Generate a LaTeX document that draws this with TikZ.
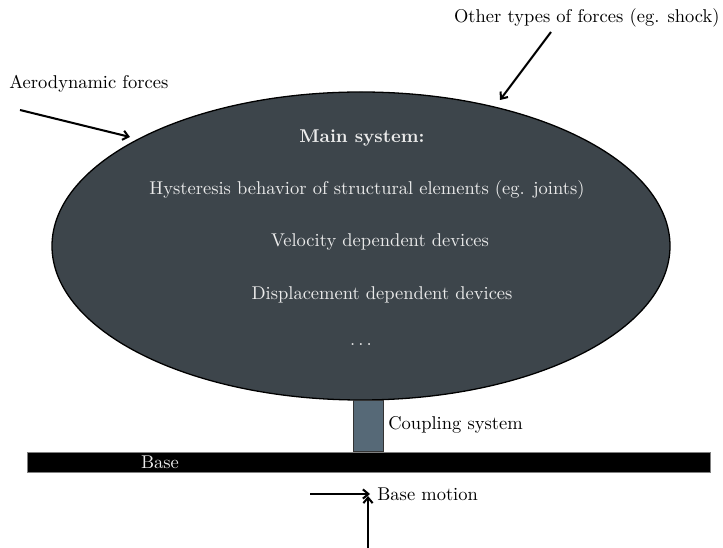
\documentclass[tikz,border=0pt]{standalone}
\usetikzlibrary{arrows.meta}
\definecolor{mainfill}{HTML}{3D454B}
\definecolor{coupfill}{HTML}{566977}
\begin{document}
\begin{tikzpicture}[x=0.019cm,y=-0.019cm,
  arr/.style={line width=1.1pt,-{Straight Barb[length=3pt,width=5pt]}},
  intext/.style={text=white!92!black},
  lbl/.style={inner sep=0pt}]
\path[use as bounding box] (0,0) rectangle (723,548);
\draw[black,line width=0.7pt,fill=mainfill] (361,246) ellipse [x radius=309, y radius=154];
\node[intext] (ms) at (362,138) {\textbf{Main system:}};
\node[intext] (hy) at (367,190) {Hysteresis behavior of structural elements (eg. joints)};
\node[intext] (ve) at (380,242) {Velocity dependent devices};
\node[intext] (di) at (382,295) {Displacement dependent devices};
\node[intext] (dd) at (361,345) {$\ldots$};
\node[draw=black!80,semithick,fill=coupfill,minimum width=30*0.019cm,minimum height=51*0.019cm,inner sep=0pt,anchor=north west] (cp) at (353,400) {};
\node[lbl,anchor=west] (cpl) at (388,425) {Coupling system};
\node[draw=black!50,fill=black,minimum width=683*0.019cm,minimum height=20*0.019cm,inner sep=0pt,anchor=north west] (base) at (27,452) {};
\node[intext,anchor=center] (bl) at (160,462) {Base};
\node[lbl,anchor=west] (ae) at (9,84) {Aerodynamic forces};
\coordinate (aes) at (20,110);
\coordinate (aee) at (130,137);
\draw[arr] (aes) -- (aee);
\node[lbl,anchor=east] (ot) at (720,18) {Other types of forces (eg. shock)};
\coordinate (ots) at (551,32);
\coordinate (ote) at (500,100);
\draw[arr] (ots) -- (ote);
\coordinate (hs) at (310,494);
\coordinate (he) at (370,494);
\draw[arr] (hs) -- (he);
\coordinate (vs) at (368,548);
\coordinate (ve2) at (368,496);
\draw[arr] (vs) -- (ve2);
\node[lbl,anchor=west] (bm) at (377,494) {Base motion};
\end{tikzpicture}
\end{document}
